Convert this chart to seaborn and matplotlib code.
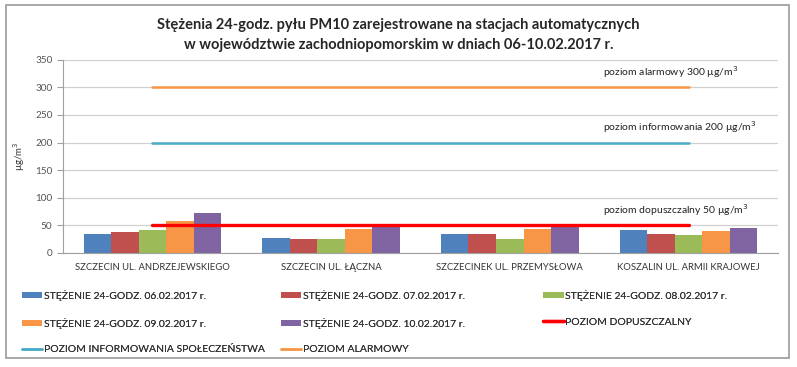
import numpy as np
import pandas as pd
import seaborn as sns
import matplotlib.pyplot as plt
from matplotlib.patches import Rectangle

# dane
stacje = ['SZCZECIN UL. ANDRZEJEWSKIEGO', 'SZCZECIN UL. ŁĄCZNA',
          'SZCZECINEK UL. PRZEMYSŁOWA', 'KOSZALIN UL. ARMII KRAJOWEJ']
serie = ['STĘŻENIE 24-GODZ. 06.02.2017 r.', 'STĘŻENIE 24-GODZ. 07.02.2017 r.',
         'STĘŻENIE 24-GODZ. 08.02.2017 r.', 'STĘŻENIE 24-GODZ. 09.02.2017 r.',
         'STĘŻENIE 24-GODZ. 10.02.2017 r.']
d0602 = [34, 27, 34, 42]
d0702 = [37, 25, 34, 34]
d0802 = [42, 26, 26, 32]
d0902 = [57, 43, 43, 40]
d1002 = [72, 48, 49, 45]
poziom_dopuszczalny = [50, 50, 50, 50]
poziom_informowania = [200, 200, 200, 200]
poziom_alarmowy = [300, 300, 300, 300]
kolory = ['#4F81BD', '#C0504D', '#9BBB59', '#F79646', '#8064A2']

df = pd.DataFrame({'stacja': stacje * 5,
                   'seria': np.repeat(serie, len(stacje)),
                   'wartosc': d0602 + d0702 + d0802 + d0902 + d1002})

sns.set_style('white')
plt.rcParams['font.family'] = ['Lato', 'DejaVu Sans']

fig = plt.figure(figsize=(7.97, 3.67), dpi=100)
ax = fig.add_axes([0.079, 0.311, 0.897, 0.526])

sns.barplot(data=df, x='stacja', y='wartosc', hue='seria', palette=kolory,
            width=0.77, saturation=1, linewidth=0, edgecolor='none', ax=ax, legend=True)
h_bars, l_bars = ax.get_legend_handles_labels()
ax.get_legend().remove()

pos = np.arange(len(stacje))
sns.lineplot(x=pos, y=poziom_dopuszczalny, color='#FF0000', lw=2.4, ax=ax, zorder=5,
             label='POZIOM DOPUSZCZALNY')
sns.lineplot(x=pos, y=poziom_informowania, color='#4BACC6', lw=1.8, ax=ax, zorder=5,
             label='POZIOM INFORMOWANIA SPOŁECZEŃSTWA')
sns.lineplot(x=pos, y=poziom_alarmowy, color='#F79646', lw=1.8, ax=ax, zorder=5,
             label='POZIOM ALARMOWY')
handles, labels = ax.get_legend_handles_labels()
ax.get_legend().remove()

# opisy poziomów
for y, txt in [(300, 'poziom alarmowy 300 µg/m$^3$'),
               (200, 'poziom informowania 200 µg/m$^3$'),
               (50, 'poziom dopuszczalny 50 µg/m$^3$')]:
    ax.annotate(txt, xy=(2.52, y), xytext=(0, 11), textcoords='offset points',
                fontsize=7.5, color='#222222', va='center', ha='left')

ax.set_ylim(0, 350)
ax.set_xlim(-0.5, 3.5)
ax.set_yticks(range(0, 351, 50))
ax.yaxis.grid(True, color='#D0D0D0', lw=0.9)
ax.set_axisbelow(True)
for s in ['top', 'right']:
    ax.spines[s].set_visible(False)
ax.spines['left'].set_color('#A0A0A0')
ax.spines['bottom'].set_color('#A0A0A0')
ax.set_xticks(np.arange(-0.5, 4, 1), minor=True)
ax.tick_params(axis='x', which='major', length=0, labelsize=6.8, colors='#333333', pad=7)
ax.tick_params(axis='x', which='minor', length=4, color='#A0A0A0', direction='out')
ax.tick_params(axis='y', length=4, color='#A0A0A0', direction='out', labelsize=7.2,
               labelcolor='#555555', left=True)
ax.set_xlabel('')
ax.set_ylabel('µg/m$^3$', fontsize=7, color='#333333', labelpad=6)

fig.text(0.5, 0.905, 'Stężenia 24-godz. pyłu PM10 zarejestrowane na stacjach automatycznych\n'
         'w województwie zachodniopomorskim w dniach 06-10.02.2017 r.',
         ha='center', va='center', fontsize=10.5, fontweight='bold', linespacing=1.6)

# legenda: trzy kolumny jak w oryginale
wszystkie_h = h_bars + handles[-3:]
wszystkie_l = l_bars + labels[-3:]
# 0-4 słupki, 5 dopuszczalny, 6 informowania, 7 alarmowy
kolumny = [[0, 3, 6], [1, 4, 7], [2, 5]]
x_kol = [0.027, 0.352, 0.681]
for xk, idx in zip(x_kol, kolumny):
    leg = fig.legend([wszystkie_h[i] for i in idx], [wszystkie_l[i] for i in idx],
                     loc='upper left', bbox_to_anchor=(xk, 0.21), frameon=False,
                     fontsize=7.5, handlelength=2.0, handleheight=0.45,
                     handletextpad=0.15, labelspacing=1.62, labelcolor='#333333',
                     borderaxespad=0, borderpad=0)
    fig.add_artist(leg)

fig.patches.append(Rectangle((0.008, 0.025), 0.982, 0.962, transform=fig.transFigure,
                             fill=False, edgecolor='#999999', lw=1.2))

plt.savefig('out.png', dpi=100)
